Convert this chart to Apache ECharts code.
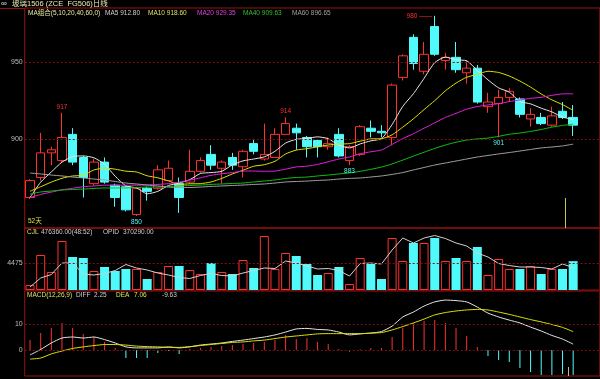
<!DOCTYPE html>
<html><head><meta charset="utf-8">
<script src="https://cdn.jsdelivr.net/npm/echarts@6/dist/echarts.min.js"></script>
<style>html,body{margin:0;padding:0;background:#000}#c{width:600px;height:379px}</style>
</head><body><div id="c"></div>
<script>
// ---- data ----
const categories = ['D01','D02','D03','D04','D05','D06','D07','D08','D09','D10','D11','D12','D13','D14','D15','D16','D17','D18','D19','D20','D21','D22','D23','D24','D25','D26','D27','D28','D29','D30','D31','D32','D33','D34','D35','D36','D37','D38','D39','D40','D41','D42','D43','D44','D45','D46','D47','D48','D49','D50','D51','D52'];
const openP  = [862,875,891,886,903,888,871,885,870,869,851,868,868,873,871,872,879,890,881,888,882,897,887,888,903,907,901,899,895,903,886,890,907,905,901,940,966,944,973,951,953,943,946,921,923,927,926,913,914,909,918,914];
const closeP = [873,891,893,901,885,875,885,872,862,854,868,866,880,881,862,879,886,883,885,883,892,892,890,903,910,904,895,895,897,889,895,908,905,904,935,954,949,955,955,953,945,946,924,924,927,931,916,916,910,915,914,909];
const lowP   = [861,873,883,885,883,862,870,871,856,853,850,860,867,873,852,871,878,880,871,880,875,890,886,888,903,893,888,888,893,888,883,889,901,901,896,938,945,942,954,945,943,936,923,917,901,924,914,908,909,908,913,902];
const highP  = [874,904,895,917,907,889,887,888,871,870,869,869,883,886,875,893,888,896,886,891,893,900,910,907,914,910,902,900,901,907,896,909,912,909,936,955,968,963,980,956,963,951,948,930,932,933,927,920,917,921,924,922];
const ma5  = [862,872,878.6,885,888.6,889.0,887.8,883.6,875.8,869.6,868.2,864.4,866.0,869.8,871.4,873.6,877.6,878.2,879.0,883.2,885.8,887.0,888.4,892.0,897.4,899.8,900.4,901.4,900.2,896.0,894.2,896.8,898.8,900.2,909.4,921.2,929.4,939.4,949.6,953.2,951.4,950.8,944.6,938.4,933.2,930.4,924.4,922.8,920.0,917.6,914.2,912.8];
const ma10 = [866,869,872,874.5,876,876.4,879.9,881.1,880.4,879.1,878.6,876.1,874.8,872.8,870.5,870.9,871.0,872.1,874.4,877.3,879.7,882.3,883.3,885.5,890.3,892.8,893.7,894.9,896.1,896.7,897.0,898.6,900.1,900.2,902.7,907.7,913.1,919.1,924.9,931.3,936.3,940.1,942.0,944.0,943.2,940.9,937.6,933.7,929.2,925.4,922.3,918.6];
const ma20 = [862,864,865.5,867,868,869,869.5,870,870,870,870,870.2,870.5,871,872,873.3,874.8,876.4,877.4,878.2,879.15,879.2,879.05,879.15,880.4,881.85,882.35,883.5,885.25,887.0,888.35,890.45,891.7,892.85,896.5,900.25,903.4,907.0,910.5,914.0,916.65,919.35,921.05,922.1,922.95,924.3,925.35,926.4,927.05,928.35,929.3,929.35];
const ma40 = [864.3,865.6,866.2,866.9,867.2,867.5,867.9,868.2,868.2,868.2,868.5,868.8,868.8,869.2,869.5,869.8,870.1,870.5,870.8,871.1,871.4,872.1,872.7,873.4,874.4,875,875.3,876,876.6,877.3,878,879,880.3,881.8,883.8,886.3,888.9,891.4,893.9,896.1,897.9,899.3,900.05,900.6,901.7,903.1,903.85,904.95,906.15,907.7,908.8,909.63];
const ma60 = [877.9,877.3,876.6,876.0,875.3,874.7,874.0,873.4,872.4,871.4,870.8,870.1,869.5,868.8,868.5,868.5,868.8,869.2,869.5,869.8,870.1,870.5,870.8,871.4,872.1,872.4,872.7,873.1,873.4,874.0,874.4,874.7,875.3,876.0,877.0,878.2,879.9,881.5,883.1,884.4,885.7,887.0,888.3,889.3,890.3,891.2,892.2,893.2,894.2,894.8,895.5,896.65];
const volume = [82500,577500,297000,808500,544500,528000,313500,379500,313500,346500,346500,181500,297000,396000,396000,330000,264000,445500,297000,264000,495000,363000,891000,346500,610500,561000,429000,247500,280500,379500,99000,528000,429000,181500,858000,478500,775500,775500,858000,478500,528000,478500,709500,247500,511500,346500,346500,396000,264000,346500,346500,476360];
const opid = [49500,198000,255750,445500,445500,264000,247500,272250,321750,420750,363000,330000,280500,247500,206250,189750,239250,272250,239250,231000,280500,321750,363000,354750,478500,445500,396000,346500,354750,321750,231000,437250,445500,429000,660000,858000,775500,858000,899250,849750,775500,726000,610500,544500,437250,404250,379500,379500,371250,346500,429000,370290];
const diff = [-1.9,0.2,2.7,4.6,5.0,4.6,5.0,4.0,2.7,1.2,0.8,0.8,0.8,1.2,0.8,1.2,1.9,2.3,2.7,3.3,3.8,4.4,5.0,5.8,6.9,8.1,8.3,7.9,7.7,6.9,5.8,6.2,6.5,7.1,9.2,12.7,14.6,16.9,18.5,19.2,19.0,18.5,16.5,14.2,12.7,11.5,10.4,8.8,7.3,5.6,4.2,2.25];
const dea  = [-3.5,-3.1,-1.5,-0.4,0.6,1.2,1.7,2.1,2.1,1.9,1.5,1.3,1.2,1.0,1.0,1.3,1.7,2.1,2.5,2.9,3.1,3.5,3.8,4.4,5.0,5.4,5.8,6.2,6.3,6.3,6.3,6.3,6.5,6.7,7.7,9.0,10.4,11.9,13.5,14.4,15.0,15.4,15.6,15.4,14.6,13.7,12.7,11.7,10.8,9.8,8.7,7.06];
const macd = [3.8,6.5,8.5,10.4,8.5,6.2,5.0,3.1,0.8,-3.1,-3.1,-3.1,-1.2,-0.4,-1.5,0.4,0.8,1.2,1.5,1.9,2.3,2.7,3.1,3.8,5.8,4.2,4.6,3.1,2.3,0.4,-0.6,0.3,0.8,0.8,5.0,8.5,10.4,11.2,11.5,10.4,8.5,5.4,1.2,-2.3,-3.8,-4.6,-6.9,-8.5,-9.6,-9.6,-9.2,-9.63];
const priceTicks = [900, 950];
const volTicks = [447500];
const volTickLabels = ['4475'];
const macdTicks = [0, 10];
const highMarkIdx = [3, 24, 38];
const lowMarkIdx = [10, 30, 44];

// ---- styling ----
const UP = '#FF3030', DOWN = '#50FAFA', FRAME = '#9A1010', GRIDC = '#7A1414';
const FONT = 'Liberation Sans, Noto Sans CJK SC, sans-serif';
const xData = categories.concat([' ', '  ']);
const isUp = i => closeP[i] >= openP[i];

const chart = echarts.init(document.getElementById('c'), null, {renderer: 'canvas'});
const gridBase = {left: 24.7, right: 0.2, show: true, borderColor: FRAME, borderWidth: 1, backgroundColor: 'transparent'};
const xBase = (gi) => ({type: 'category', gridIndex: gi, data: xData, boundaryGap: true,
  axisLine: {show: false}, axisTick: {show: false}, axisLabel: {show: false}, splitLine: {show: false}});
const yBase = (gi, min, max) => ({type: 'value', gridIndex: gi, min, max, scale: true,
  axisLine: {show: false}, axisTick: {show: false}, axisLabel: {show: false}, splitLine: {show: false}});
const tickLine = (vals, labels) => ({
  silent: true, symbol: ['none', 'none'], animation: false,
  lineStyle: {color: GRIDC, type: [2, 2], width: 1},
  label: {position: 'start', distance: 2, color: '#BEBEBE', fontSize: 7, fontFamily: FONT},
  data: vals.map((v, k) => ({yAxis: v, label: {formatter: labels ? labels[k] : String(v)}}))
});
const maLine = (name, data, color) => ({name, type: 'line', xAxisIndex: 0, yAxisIndex: 0, data,
  showSymbol: false, smooth: 0.2, lineStyle: {color, width: 1}, silent: true, z: 3});

const txt = (text, x, y, fill, size) => ({type: 'text', silent: true, z: 100,
  style: {text, x, y, fill, fontSize: size || 6.5, fontFamily: FONT, verticalAlign: 'middle'}});
const vline = (x, y1, y2, color) => ({type: 'line', silent: true, z: 50,
  shape: {x1: x, y1, x2: x, y2}, style: {stroke: color, lineWidth: 1}});

chart.setOption({
  animation: false,
  backgroundColor: '#000',
  grid: [
    Object.assign({top: 8, height: 220}, gridBase),
    Object.assign({top: 228, height: 62}, gridBase),
    Object.assign({top: 291, height: 85}, gridBase)
  ],
  xAxis: [xBase(0), xBase(1), xBase(2)],
  yAxis: [yBase(0, 842.21, 985.06), yBase(1, 0, 1023000), yBase(2, -10, 22.69)],
  series: [
    {type: 'candlestick', xAxisIndex: 0, yAxisIndex: 0, barWidth: 9, z: 2,
      data: categories.map((_, i) => [openP[i], closeP[i], lowP[i], highP[i]]),
      itemStyle: {color: '#000', color0: DOWN, borderColor: UP, borderColor0: DOWN, borderWidth: 1},
      markLine: tickLine(priceTicks),
      markPoint: {symbol: 'rect', symbolSize: 1, itemStyle: {color: 'rgba(0,0,0,0)'}, animation: false,
        label: {show: true, fontSize: 6.5, fontFamily: FONT},
        data: highMarkIdx.map(i => ({coord: [categories[i], highP[i]], value: highP[i],
            label: {position: i === 38 ? 'left' : 'top', distance: i === 38 ? 2 : 2, color: UP,
              formatter: i === 38 ? highP[i] + ' ——' : String(highP[i])}}))
          .concat(lowMarkIdx.map(i => ({coord: [categories[i], lowP[i]], value: lowP[i],
            label: {position: 'bottom', distance: 2, color: DOWN, formatter: String(lowP[i])}})))
      }
    },
    maLine('MA5', ma5, '#E6E6E6'),
    maLine('MA10', ma10, '#E0E000'),
    maLine('MA20', ma20, '#E020E0'),
    maLine('MA40', ma40, '#10C010'),
    maLine('MA60', ma60, '#A0A0A0'),
    {type: 'bar', xAxisIndex: 1, yAxisIndex: 1, barWidth: 9, silent: true,
      data: volume.map((v, i) => ({value: v, itemStyle: isUp(i) ? {color: '#000', borderColor: UP, borderWidth: 1} : {color: DOWN}})),
      markLine: tickLine(volTicks, volTickLabels)},
    {type: 'line', xAxisIndex: 1, yAxisIndex: 1, data: opid, showSymbol: false, silent: true,
      lineStyle: {color: '#D0D0D0', width: 1}},
    {type: 'bar', xAxisIndex: 2, yAxisIndex: 2, barWidth: 1, silent: true,
      data: macd.map(v => ({value: v, itemStyle: {color: v >= 0 ? UP : DOWN}})),
      markLine: tickLine(macdTicks)},
    {type: 'line', xAxisIndex: 2, yAxisIndex: 2, data: diff, showSymbol: false, silent: true, smooth: 0.2,
      lineStyle: {color: '#E6E6E6', width: 1}},
    {type: 'line', xAxisIndex: 2, yAxisIndex: 2, data: dea, showSymbol: false, silent: true, smooth: 0.2,
      lineStyle: {color: '#E0E000', width: 1}}
  ],
  graphic: [
    {type: 'line', silent: true, shape: {x1: 0, y1: 8.5, x2: 25, y2: 8.5}, style: {stroke: FRAME, lineWidth: 1}},
    vline(565.5, 198, 228, '#C8C850'),
    vline(568.5, 367, 376, '#C8B890'),
    txt('∞', 1, 4, '#E0E0E0', 8),
    txt('玻璃1506 (ZCE  FG506)日线', 12, 4, '#E8E8B0', 7.5),
    txt('MA组合(5,10,20,40,60,0)', 28, 13, '#E8E8A0'),
    txt('MA5 912.80', 105, 13, '#D0D0D0'),
    txt('MA10 918.60', 148, 13, '#E0E060'),
    txt('MA20 929.35', 197, 13, '#E040E0'),
    txt('MA40 909.63', 243, 13, '#30C030'),
    txt('MA60 896.65', 292, 13, '#A0A0A0'),
    txt('52天', 28, 221, '#E0E040'),
    txt('CJL', 27, 232, '#E0E060'),
    txt('476360.00(48:52)', 41, 232, '#D0D0D0'),
    txt('OPID', 103, 232, '#D0D0D0'),
    txt('370290.00', 123, 232, '#D0D0D0'),
    txt('MACD(12,26,9)', 27, 295, '#E0E060'),
    txt('DIFF', 76, 295, '#D0D0D0'),
    txt('2.25', 94, 295, '#D0D0D0'),
    txt('DEA', 116, 295, '#E0E060'),
    txt('7.06', 134, 295, '#E0E060'),
    txt('-9.63', 162, 295, '#D0D0D0')
  ]
});
</script></body></html>
